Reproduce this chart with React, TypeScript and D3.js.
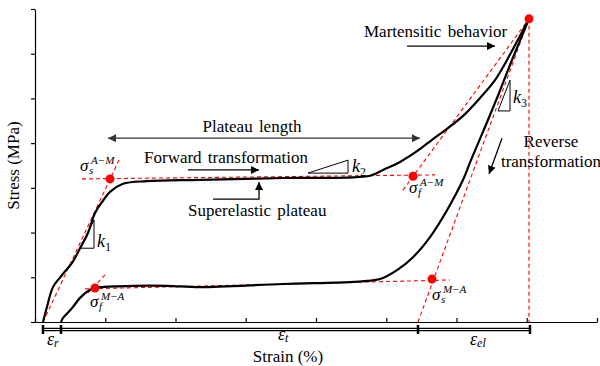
import React, { useEffect, useRef } from 'react';
import * as d3 from 'd3';

// strain (%), stress (MPa)
const loadingCurve: [number, number][] = [
  [0.114, 0], [0.171, 34], [0.256, 78], [0.385, 105], [0.527, 132], [0.641, 165],
  [0.754, 199], [0.854, 244], [0.954, 268], [1.068, 291], [1.253, 309], [1.594, 315],
  [2.349, 318], [3.530, 322], [4.769, 327], [4.954, 340], [5.196, 358], [5.438, 382],
  [5.665, 409], [5.865, 432], [6.121, 465], [6.335, 501], [6.548, 541], [6.719, 586],
  [7.032, 678],
];

const unloadingCurve: [number, number][] = [
  [7.032, 678], [6.790, 586], [6.605, 512], [6.406, 436], [6.206, 362], [6.093, 318],
  [5.865, 250], [5.623, 190], [5.381, 145], [5.153, 116], [4.911, 96],
  [4.726, 92], [4.484, 89], [3.530, 85], [2.349, 78], [1.879, 81], [1.395, 81],
  [0.925, 78], [0.854, 76], [0.783, 72], [0.641, 54], [0.527, 31], [0.399, 9],
  [0.370, 0],
];

const keyPoints: [number, number][] = [
  [1.068, 320], [5.381, 326], [0.854, 76], [5.651, 96], [7.032, 678],
];

const tangentLines: [number, number][][] = [
  [[0.669, 320], [5.694, 329]],
  [[0.114, 0], [1.210, 367]],
  [[0.712, 74], [5.907, 94]],
  [[0.754, 65], [1.025, 110]],
  [[5.238, 295], [7.032, 678]],
  [[5.452, 0], [7.032, 678]],
  [[7.032, 678], [7.032, 0]],
];

const strainTicks = [0, 1, 2, 3, 4, 5, 6, 7, 8];
const stressTicks = [0, 100, 200, 300, 400, 500, 600, 700];

// ends of the strain bands under the axis
const bandMarks = [0.114, 0.370, 5.452, 7.046];
const bandLabels = [
  { base: 'ε', sub: 'r', strain: 0.171, dy: 23 },
  { base: 'ε', sub: 't', strain: 3.459, dy: 18 },
  { base: 'ε', sub: 'el', strain: 6.192, dy: 23 },
];

const slopeTriangles: [number, number][][] = [
  [[0.641, 165], [0.840, 165], [0.840, 228]],
  [[3.886, 333], [4.456, 362], [4.456, 333]],
  [[6.591, 472], [6.762, 472], [6.762, 541]],
];
const slopeLabels = [
  { sub: '1', strain: 0.883, stress: 168 },
  { sub: '2', strain: 4.512, stress: 335 },
  { sub: '3', strain: 6.804, stress: 490 },
];

const sigmaLabels = [
  { sub: 's', sup: 'A−M', strain: 0.641, stress: 337 },
  { sub: 'f', sup: 'A−M', strain: 5.324, stress: 288 },
  { sub: 'f', sup: 'M−A', strain: 0.783, stress: 34 },
  { sub: 's', sup: 'M−A', strain: 5.651, stress: 49 },
];

const notes = [
  { text: 'Plateau length', strain: 3.089, stress: 425, anchor: 'middle' },
  { text: 'Forward transformation', strain: 1.552, stress: 356, anchor: 'start' },
  { text: 'Superelastic plateau', strain: 2.178, stress: 237, anchor: 'start' },
  { text: 'Martensitic behavior', strain: 4.683, stress: 637, anchor: 'start' },
  { text: 'Reverse', strain: 7.345, stress: 391, anchor: 'middle' },
  { text: 'transformation', strain: 7.345, stress: 347, anchor: 'middle' },
];

const arrows = [
  { path: [[1.039, 411], [5.480, 411]], both: true, color: '#333' },
  { path: [[2.178, 340], [3.189, 340]], both: false, color: '#000' },
  { path: [[2.534, 275], [3.189, 275], [3.189, 313]], both: false, color: '#000' },
  { path: [[5.295, 617], [6.548, 617]], both: false, color: '#000' },
  { path: [[6.648, 411], [6.463, 331]], both: false, color: '#000' },
];

const serif = 'Liberation Serif, DejaVu Serif, serif';

function App() {
  const ref = useRef<SVGSVGElement>(null);

  useEffect(() => {
    document.body.style.margin = '0';
    const svg = d3.select(ref.current);
    svg.selectAll('*').remove();

    const x = d3.scaleLinear().domain([0, 8]).range([35, 597]);
    const y = d3.scaleLinear().domain([0, 700]).range([322, 9]);

    const defs = svg.append('defs');
    ['#000', '#333'].forEach((c, i) => {
      defs.append('marker')
        .attr('id', 'arrow' + i)
        .attr('viewBox', '0 0 10 10')
        .attr('refX', 10).attr('refY', 5)
        .attr('markerUnits', 'userSpaceOnUse')
        .attr('markerWidth', 10).attr('markerHeight', 8)
        .attr('orient', 'auto-start-reverse')
        .append('path').attr('d', 'M0,0L10,5L0,10z').attr('fill', c);
    });

    // axes
    svg.append('g')
      .attr('transform', `translate(0,${y(0)})`)
      .call(d3.axisBottom(x).tickValues(strainTicks).tickSize(-4).tickSizeOuter(0).tickFormat(() => ''))
      .call(g => g.selectAll('path, line').attr('stroke-width', 1.2));

    svg.append('g')
      .attr('transform', `translate(${x(0)},0)`)
      .call(d3.axisLeft(y).tickValues(stressTicks).tickSize(4).tickSizeOuter(0).tickFormat(() => ''))
      .call(g => g.selectAll('path, line').attr('stroke-width', 1.2));

    // strain bands
    const bandY = y(0) + 7.5;
    [-1.2, 1.2].forEach(off => {
      svg.append('line')
        .attr('x1', x(bandMarks[0])).attr('x2', x(bandMarks[3]))
        .attr('y1', bandY + off).attr('y2', bandY + off)
        .attr('stroke', '#000').attr('stroke-width', 1.2);
    });
    svg.append('g').selectAll('line')
      .data(bandMarks)
      .join('line')
      .attr('x1', d => x(d)).attr('x2', d => x(d))
      .attr('y1', bandY - 4.5).attr('y2', bandY + 4.5)
      .attr('stroke', '#000').attr('stroke-width', 2.5);

    const bl = svg.append('g').attr('font-family', serif).attr('font-style', 'italic');
    bandLabels.forEach(d => {
      const t = bl.append('text')
        .attr('x', x(d.strain)).attr('y', y(0) + d.dy)
        .attr('font-size', 18);
      t.append('tspan').text(d.base);
      t.append('tspan').attr('font-size', 12).attr('dy', 2).text(d.sub);
    });

    svg.append('text')
      .attr('x', 288).attr('y', 362)
      .attr('text-anchor', 'middle')
      .attr('font-family', serif).attr('font-size', 17)
      .text('Strain (%)');

    svg.append('text')
      .attr('transform', `translate(19,${(y(0) + y(700)) / 2}) rotate(-90)`)
      .attr('text-anchor', 'middle')
      .attr('font-family', serif).attr('font-size', 17)
      .text('Stress (MPa)');

    // red construction lines
    const line = d3.line<[number, number]>().x(d => x(d[0])).y(d => y(d[1]));
    svg.append('g').selectAll('path')
      .data(tangentLines)
      .join('path')
      .attr('d', d => line(d as [number, number][]))
      .attr('fill', 'none')
      .attr('stroke', '#ff0000')
      .attr('stroke-width', 1.1)
      .attr('stroke-dasharray', '4,3');

    // stress-strain loop
    const curve = d3.line<[number, number]>()
      .x(d => x(d[0])).y(d => y(d[1]))
      .curve(d3.curveCatmullRom.alpha(0.5));
    [loadingCurve, unloadingCurve].forEach(c => {
      svg.append('path')
        .attr('d', curve(c))
        .attr('fill', 'none')
        .attr('stroke', '#000')
        .attr('stroke-width', 2.2)
        .attr('stroke-linejoin', 'round');
    });

    svg.append('g').selectAll('circle')
      .data(keyPoints)
      .join('circle')
      .attr('cx', d => x(d[0])).attr('cy', d => y(d[1]))
      .attr('r', 4.5)
      .attr('fill', '#ff0000');

    // slope triangles
    svg.append('g').selectAll('path')
      .data(slopeTriangles)
      .join('path')
      .attr('d', d => line(d as [number, number][]) + 'Z')
      .attr('fill', 'none')
      .attr('stroke', '#000')
      .attr('stroke-width', 1);

    const kl = svg.append('g').attr('font-family', serif).attr('font-style', 'italic');
    slopeLabels.forEach(d => {
      const t = kl.append('text')
        .attr('x', x(d.strain)).attr('y', y(d.stress))
        .attr('font-size', 18);
      t.append('tspan').text('k');
      t.append('tspan').attr('font-size', 12).attr('font-style', 'normal').attr('dy', 4).text(d.sub);
    });

    const sl = svg.append('g').attr('font-family', serif).attr('font-style', 'italic');
    sigmaLabels.forEach(d => {
      const px = x(d.strain), py = y(d.stress);
      sl.append('text').attr('x', px).attr('y', py).attr('font-size', 17).text('σ');
      sl.append('text').attr('x', px + 9).attr('y', py + 3).attr('font-size', 11).text(d.sub);
      sl.append('text').attr('x', px + 11).attr('y', py - 7).attr('font-size', 11).text(d.sup);
    });

    // text notes
    svg.append('g')
      .attr('font-family', serif).attr('font-size', 17)
      .selectAll('text')
      .data(notes)
      .join('text')
      .attr('x', d => x(d.strain)).attr('y', d => y(d.stress))
      .attr('text-anchor', d => d.anchor)
      .attr('word-spacing', 2)
      .text(d => d.text);

    // arrows
    svg.append('g').selectAll('path')
      .data(arrows)
      .join('path')
      .attr('d', d => line(d.path as [number, number][]))
      .attr('fill', 'none')
      .attr('stroke', d => d.color)
      .attr('stroke-width', 1.3)
      .attr('marker-end', d => `url(#arrow${d.color === '#333' ? 1 : 0})`)
      .attr('marker-start', d => d.both ? `url(#arrow${d.color === '#333' ? 1 : 0})` : null);
  }, []);

  return <svg ref={ref} width={600} height={366} style={{ display: 'block', background: '#fff' }} />;
}

export default App;
